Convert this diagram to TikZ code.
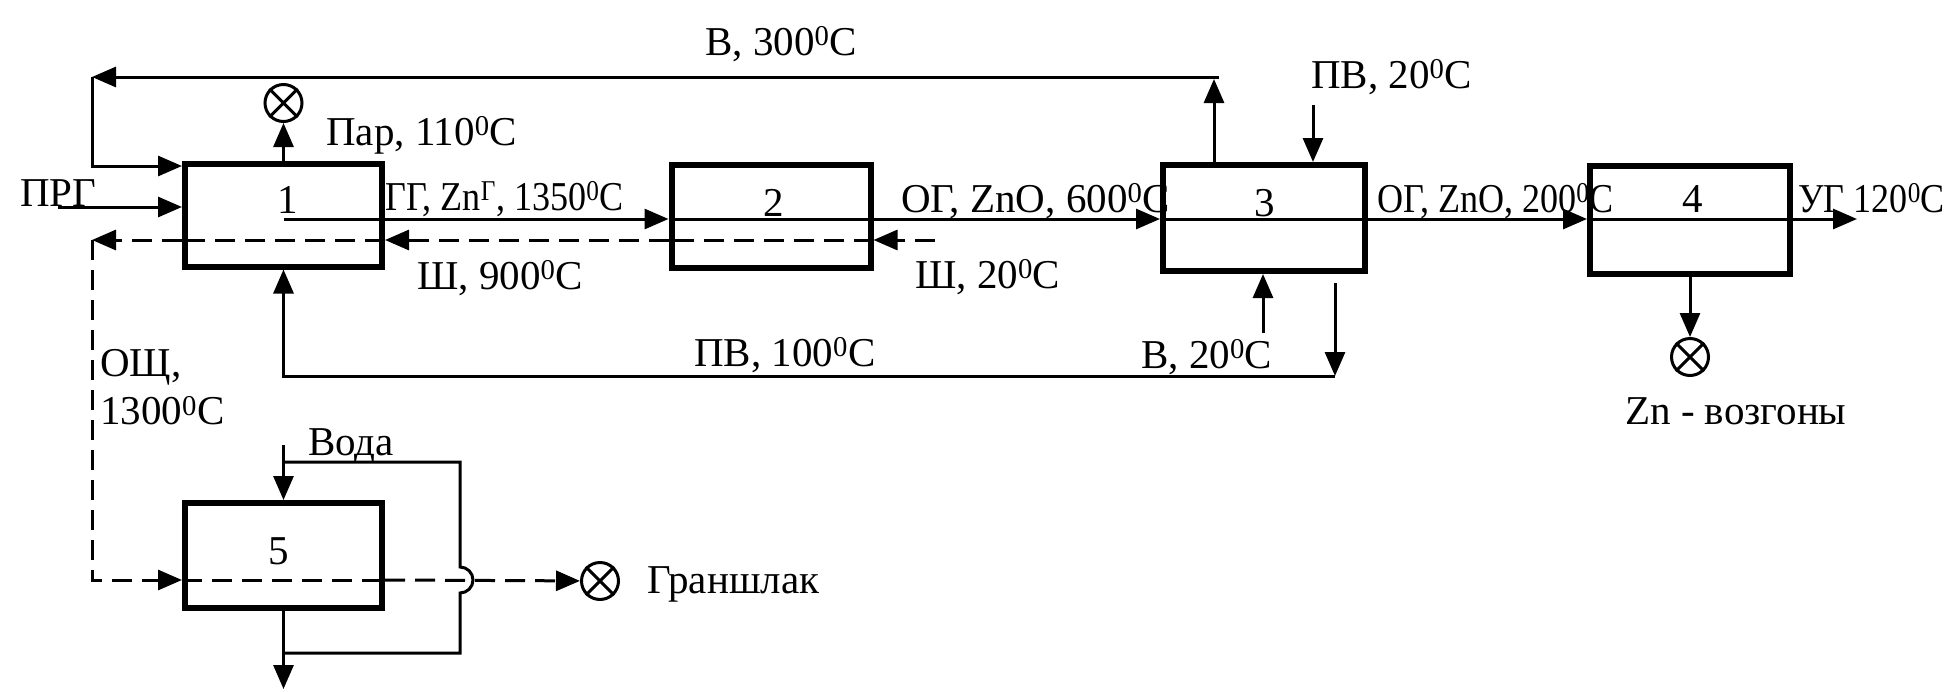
\documentclass[tikz,border=0pt]{standalone}
\usepackage{fontspec}
\setmainfont{Liberation Serif}
\newfontfamily\cond{Liberation Serif}[FakeStretch=0.88]
\usetikzlibrary{arrows.meta}
\tikzset{
  box/.style={draw, line width=6pt, minimum width=197pt, minimum height=103pt, inner sep=0pt},
  flow/.style={line width=3pt},
  tip/.style={-{Triangle[length=24pt,width=20pt]}},
  arr/.style={flow, tip},
  dsh/.style={flow, dash pattern=on 20pt off 10pt},
  lbl/.style={font=\fontsize{41}{48}\selectfont, inner sep=0pt, anchor=base west},
  clbl/.style={lbl, font=\fontsize{41}{48}\selectfont\cond},
  num/.style={font=\fontsize{41}{48}\selectfont, inner sep=0pt, anchor=base},
  sink/.style={draw, circle, line width=3pt, minimum size=37pt, inner sep=0pt},
}
\newcommand{\dg}{\textsuperscript{0}}
\begin{document}
\begin{tikzpicture}[x=1pt,y=-1pt]
\useasboundingbox (0,0) rectangle (1952,691);
% boxes
\node[box] (b1) at (283.5,215) {};
\node[box, minimum width=199pt] (b2) at (771,216) {};
\node[box, minimum width=202pt, minimum height=106pt] (b3) at (1264,218) {};
\node[box, minimum width=200pt, minimum height=108pt] (b4) at (1690,219.5) {};
\node[box, minimum height=105pt] (b5) at (283.5,555.5) {};
\node[num] (n1) at (288,213) {1};
\node[num] (n2) at (774,216) {2};
\node[num] (n3) at (1265,216) {3};
\node[num] (n4) at (1693,212) {4};
\node[num] (n5) at (279,564) {5};
% helper coordinates
\coordinate (m) at (0,219);
\coordinate (d) at (0,240);
\coordinate (d5) at (0,580);
% main flow
\coordinate (m1) at (284,219);
\coordinate (ug) at (1857,219);
\draw[arr] (m1) -- (b2.west |- m);
\draw[flow] (b2.west |- m) -- (b2.east |- m);
\draw[arr] (b2.east |- m) -- (b3.west |- m);
\draw[flow] (b3.west |- m) -- (b3.east |- m);
\draw[arr] (b3.east |- m) -- (b4.west |- m);
\draw[flow] (b4.west |- m) -- (b4.east |- m);
\draw[arr] (b4.east |- m) -- (ug);
% slag (dashed)
\coordinate (d0) at (935,240);
\coordinate (dc) at (92,240);
\coordinate (dc2) at (92,580);
\draw[dsh,tip] (d0) -- (b2.east |- d);
\draw[dsh] (b2.east |- d) -- (b2.west |- d);
\draw[dsh,tip] (b2.west |- d) -- (b1.east |- d);
\draw[dsh] (b1.east |- d) -- (b1.west |- d);
\draw[dsh,tip] (b1.west |- d) -- (dc);
\draw[dsh,tip] (dc) -- (dc2) -- (b5.west |- d5);
\draw[dsh] (b5.west |- d5) -- (b5.east |- d5);
\node[sink] (s3) at (600,581) {};
\draw[dsh,tip] (b5.east |- d5) -- (s3);
% water loop at 5
\coordinate (w0) at (283.5,445);
\coordinate (w1) at (283.5,462);
\coordinate (w2) at (460,462);
\coordinate (w3) at (460,653);
\coordinate (w4) at (283.5,653);
\coordinate (w5) at (283.5,689);
\draw[arr] (w0) -- (b5.north);
\draw[flow] (w1) -- (w2) -- (460,567) arc (-90:90:13) -- (w3) -- (w4);
\draw[arr] (b5.south) -- (w5);
% top loop
\coordinate (tx) at (1214,0);
\coordinate (t1) at (1214,79);
\coordinate (t0) at (1219,77);
\coordinate (t2) at (92,77);
\coordinate (t3) at (92,166);
\draw[arr] (b3.north -| tx) -- (t1);
\draw[arr] (t0) -- (t2);
\draw[arr] (t2) -- (t3) -- (b1.west |- t3);
% steam
\node[sink] (s1) at (283.5,103) {};
\draw[arr] (b1.north) -- (s1);
% PRG
\coordinate (p0) at (58,207);
\draw[arr] (p0) -- (b1.west |- p0);
% 3 inputs / outputs
\coordinate (pv) at (1313,105);
\draw[arr] (pv) -- (pv |- b3.north);
\coordinate (v20) at (1263,333);
\draw[arr] (v20) -- (v20 |- b3.south);
\coordinate (q0) at (1335,283);
\coordinate (q1) at (1335,376);
\draw[arr] (q0) -- (q1);
\draw[arr] (q1) -- (q1 -| b1.south) -- (b1.south);
% 4 output
\node[sink] (s2) at (1690,357) {};
\draw[arr] (b4.south) -- (s2);
\foreach \s in {s1,s2,s3} \draw[flow] (\s.45) -- (\s.225) (\s.135) -- (\s.-45);
% labels
\node[lbl] (l1) at (705,55) {В, 300\dg C};
\node[lbl] (l2) at (326,145) {Пар, 110\dg C};
\node[lbl] (l3) at (20,206) {ПРГ};
\node[clbl] (l4) at (385,210) {ГГ, Zn\textsuperscript{Г}, 1350\dg C};
\node[lbl] (l5) at (417,289) {Ш, 900\dg C};
\node[lbl] (l6) at (901,212) {ОГ, ZnO, 600\dg C};
\node[lbl] (l7) at (915,288) {Ш, 20\dg C};
\node[lbl] (l8) at (1311,88) {ПВ, 20\dg C};
\node[clbl] (l9) at (1377,212) {ОГ, ZnO, 200\dg C};
\node[clbl] (l10) at (1798,212) {УГ 120\dg C};
\node[lbl] (l11) at (1625,424) {Zn - возгоны};
\node[lbl] (l12) at (694,366) {ПВ, 100\dg C};
\node[lbl] (l13) at (1141,368) {В, 20\dg C};
\node[lbl, align=left, anchor=north west] (l14) at (100,349) {ОЩ,\\1300\dg C};
\node[lbl] (l15) at (308,455) {Вода};
\node[lbl] (l16) at (647,593) {Граншлак};
\end{tikzpicture}
\end{document}
